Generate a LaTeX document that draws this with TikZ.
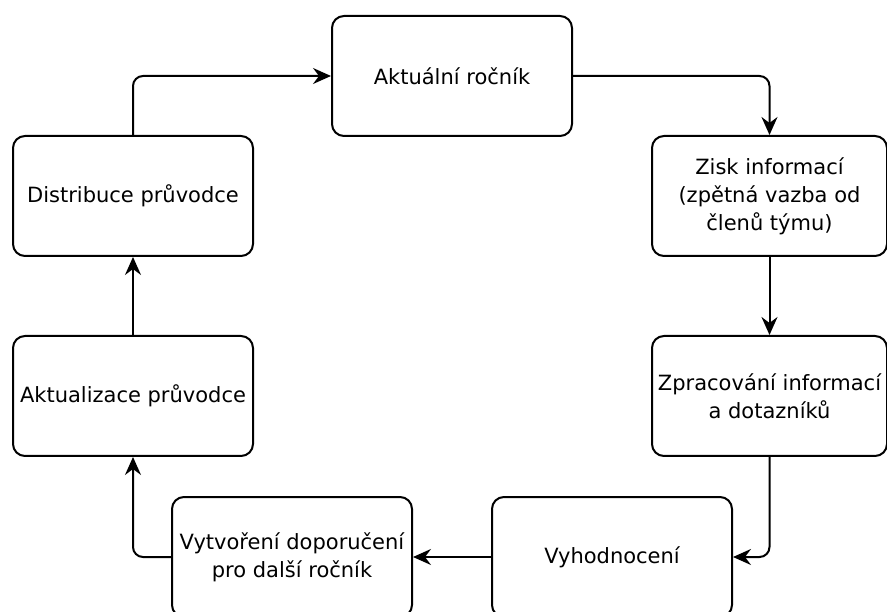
\documentclass[tikz,border=0pt]{standalone}
\usepackage{fontspec}
\setmainfont{DejaVu Sans}
\usetikzlibrary{arrows.meta}

\begin{document}
\begin{tikzpicture}[x=1pt,y=-1pt,
                    step box/.style={draw,line width=2pt,rounded corners=12pt,
                                     minimum width=240pt,minimum height=120pt,
                                     align=center,inner sep=2pt,
                                     font=\fontsize{21}{28}\selectfont},
                    link/.style={line width=2pt,rounded corners=10pt,
                                 -{Stealth[length=18pt,width=16pt,inset=6pt]}}]
    \useasboundingbox (0,0) rectangle (887,612);

    \node[step box] (aktualni) at (452,76) {Aktuální ročník};
    \node[step box,minimum width=235pt] (zisk) at (769.5,196) {Zisk informací\\(zpětná vazba od\\členů týmu)};
    \node[step box,minimum width=235pt] (zpracovani) at (769.5,396) {Zpracování informací\\a dotazníků};
    \node[step box] (vyhodnoceni) at (612,557) {Vyhodnocení};
    \node[step box] (vytvoreni) at (292,557) {Vytvoření doporučení\\pro další ročník};
    \node[step box] (aktualizace) at (133,396) {Aktualizace průvodce};
    \node[step box] (distribuce) at (133,196) {Distribuce průvodce};

    \draw[link] (distribuce.north) |- (aktualni.west);
    \draw[link] (aktualni.east) -| (zisk.north);
    \draw[link] (zisk) -- (zpracovani);
    \draw[link] (zpracovani.south) |- (vyhodnoceni.east);
    \draw[link] (vyhodnoceni) -- (vytvoreni);
    \draw[link] (vytvoreni.west) -| (aktualizace.south);
    \draw[link] (aktualizace) -- (distribuce);
\end{tikzpicture}
\end{document}
